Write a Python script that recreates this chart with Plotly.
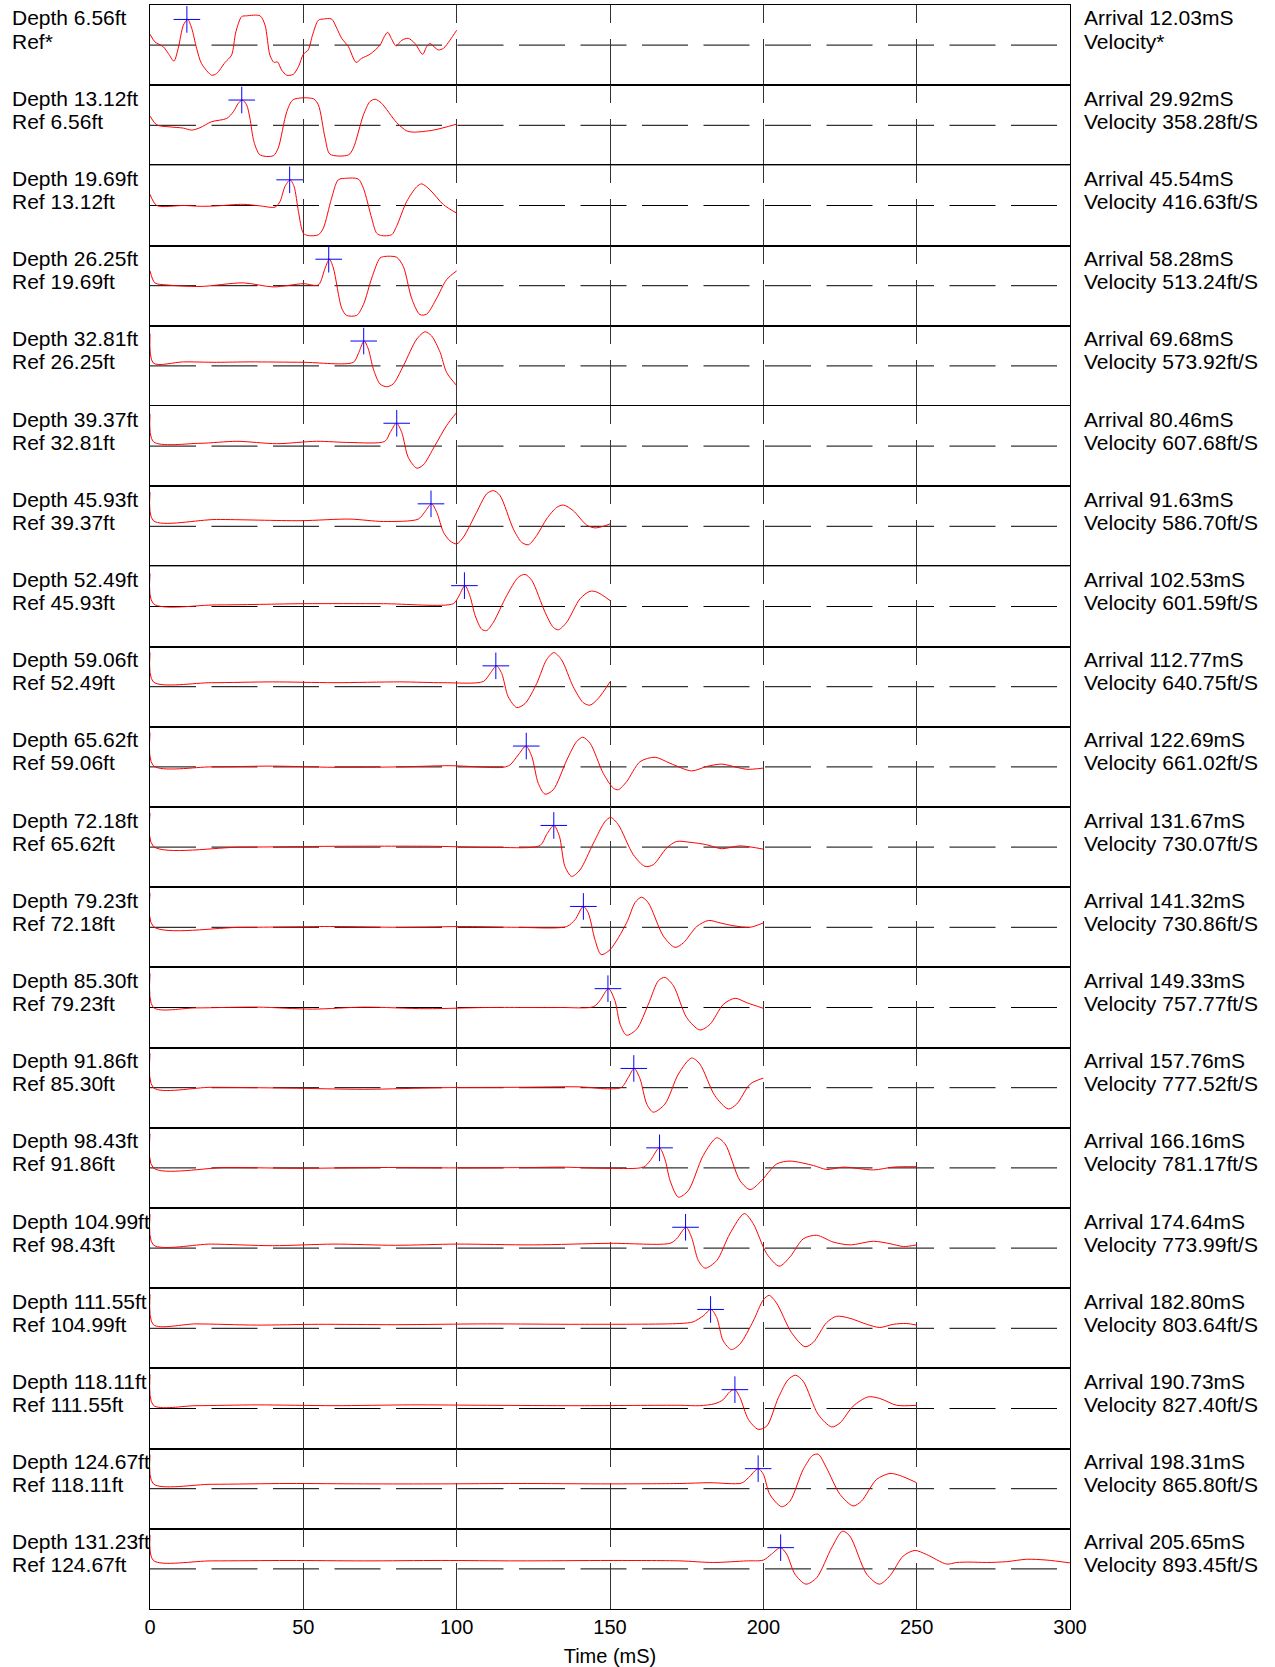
import plotly.graph_objects as go
from plotly.subplots import make_subplots

# ---------------- labels ----------------
depths = ["6.56", "13.12", "19.69", "26.25", "32.81", "39.37", "45.93", "52.49", "59.06", "65.62",
          "72.18", "79.23", "85.30", "91.86", "98.43", "104.99", "111.55", "118.11", "124.67", "131.23"]
refs = ["*", "6.56", "13.12", "19.69", "26.25", "32.81", "39.37", "45.93", "52.49", "59.06",
        "65.62", "72.18", "79.23", "85.30", "91.86", "98.43", "104.99", "111.55", "118.11", "124.67"]
arrivals = [12.03, 29.92, 45.54, 58.28, 69.68, 80.46, 91.63, 102.53, 112.77, 122.69,
            131.67, 141.32, 149.33, 157.76, 166.16, 174.64, 182.80, 190.73, 198.31, 205.65]
velocities = ["*", "358.28", "416.63", "513.24", "573.92", "607.68", "586.70", "601.59", "640.75", "661.02",
              "730.07", "730.86", "757.77", "777.52", "781.17", "773.99", "803.64", "827.40", "865.80", "893.45"]
pick_amp = [0.64, 0.63, 0.64, 0.66, 0.62, 0.57, 0.56, 0.52, 0.52, 0.52,
            0.54, 0.52, 0.47, 0.48, 0.50, 0.52, 0.47, 0.47, 0.50, 0.53]

x_ticks = [0, 50, 100, 150, 200, 250, 300]

# ---------------- waveforms (time mS, normalised amplitude) ----------------
t_01 = [0, 1.6, 4.3, 6, 7.8, 9.2, 10.9, 12.3, 13.6, 15.2, 16.8, 20.1, 21.7, 24.5, 26.6, 28, 29.9, 31.5, 35.9, 37.5,
        39.1, 40.4, 41.6, 42.9, 44.6, 46.7, 48.4, 50, 51.6, 53, 54.9, 56.5, 59.2, 60.9, 62.5, 64.7, 67.2, 69,
        71.7, 75, 76.4, 77.5, 78.8, 80.2, 82.1, 84.2, 86.4, 88.9, 90.2, 91.3, 92.6, 94, 95.7, 97.8, 100]
a_01 = [0.27, 0.08, -0.04, -0.21, -0.4, -0.08, 0.5, 0.64, 0.42, -0.08, -0.46, -0.75, -0.71, -0.43, -0.25, 0.33, 0.71, 0.73, 0.73, 0.5,
        -0.25, -0.43, -0.42, -0.62, -0.75, -0.73, -0.54, -0.23, -0.12, 0.25, 0.62, 0.65, 0.65, 0.42, 0.17, -0.04, -0.43, -0.33,
        -0.23, 0.0, 0.21, 0.32, 0.15, -0.02, 0.12, 0.17, 0.04, -0.23, -0.04, 0.04, -0.04, -0.12, -0.08, 0.12, 0.37]

t_02 = [0, 2.2, 6.5, 10.9, 13.6, 16.3, 20.1, 25, 27.2, 28.8, 30.1, 31.5, 32.6, 33.9, 35.9, 40.2, 41.8, 44.6, 46.7, 53.3,
        54.9, 57.1, 58.7, 64.7, 66.3, 69.6, 71.7, 73.4, 75.5, 80.4, 83.7, 85.9, 92.4, 100]
a_02 = [0.23, 0.01, -0.04, -0.07, -0.12, -0.06, 0.09, 0.17, 0.34, 0.55, 0.63, 0.51, 0.17, -0.41, -0.74, -0.76, -0.57, 0.34, 0.64, 0.66,
        0.51, -0.32, -0.72, -0.74, -0.57, 0.26, 0.59, 0.65, 0.55, 0.07, -0.14, -0.17, -0.12, 0.03]

t_03 = [0, 2.2, 10.9, 16.8, 21.7, 30.4, 35.9, 40.8, 42.4, 44, 45.7, 47, 48.4, 50, 51.6, 54.9, 56.5, 59.2, 61.4, 64.1,
        67.9, 69.6, 72.3, 73.9, 75.5, 78.8, 80.4, 83.7, 87, 88.6, 91.3, 95.7, 100]
a_03 = [0.28, 0.0, 0.0, -0.02, -0.01, 0.03, -0.01, -0.04, 0.1, 0.47, 0.64, 0.47, -0.15, -0.69, -0.75, -0.73, -0.57, 0.18, 0.64, 0.68,
        0.66, 0.43, -0.32, -0.69, -0.75, -0.73, -0.52, 0.1, 0.47, 0.54, 0.39, 0.02, -0.19]

t_04 = [0, 1.6, 5.4, 16.3, 30.4, 40.2, 50, 54.9, 57.1, 58.5, 59.8, 62.5, 64.1, 67.4, 69.6, 72.3, 75, 76.6, 80.4, 82.6,
        85.3, 88, 90.2, 93.5, 96.7, 100]
a_04 = [0.37, 0.07, 0.02, -0.02, 0.07, -0.03, 0.05, 0.02, 0.44, 0.66, 0.44, -0.56, -0.74, -0.74, -0.47, 0.19, 0.69, 0.73, 0.71, 0.48,
        -0.31, -0.72, -0.71, -0.31, 0.15, 0.37]

t_05 = [0, 1.1, 10.9, 21.7, 32.6, 50, 66.3, 67.9, 69.8, 71.2, 72.8, 75, 77.2, 79.3, 82.6, 87, 89.7, 91.8, 94.6, 96.7, 100]
a_05 = [0.8, 0.07, 0.1, 0.09, 0.1, 0.09, 0.09, 0.3, 0.62, 0.42, -0.07, -0.45, -0.52, -0.45, 0.0, 0.67, 0.85, 0.75, 0.34, -0.16, -0.49]

t_06 = [0, 1.1, 16.3, 28.3, 41.3, 54.3, 65.2, 76.6, 78.3, 80.4, 82.1, 84.2, 87, 89.1, 92.9, 96.7, 100]
a_06 = [0.8, 0.11, 0.07, 0.12, 0.06, 0.12, 0.09, 0.12, 0.34, 0.57, 0.34, -0.28, -0.55, -0.47, 0.01, 0.51, 0.84]

t_07 = [0, 1.1, 21.7, 48.9, 65.2, 76.1, 87.5, 89.7, 91.8, 93.5, 95.7, 97.8, 100, 102.2, 106.5, 109.8, 112, 114.1, 118.5, 121.2,
        123.4, 126.1, 129.3, 132.6, 134.8, 138, 142.4, 145.1, 147.8, 150]
a_07 = [0.85, 0.14, 0.17, 0.14, 0.18, 0.12, 0.18, 0.37, 0.56, 0.35, -0.15, -0.36, -0.44, -0.27, 0.35, 0.81, 0.89, 0.77, -0.07, -0.4,
        -0.46, -0.23, 0.18, 0.47, 0.53, 0.39, 0.03, -0.04, 0.0, 0.06]

t_08 = [0, 1.1, 21.7, 50, 76.1, 98.9, 100.5, 102.7, 104.3, 106, 108.2, 109.8, 112, 116.3, 120.1, 122.3, 124.5, 128.8, 131.5, 133.2,
        135.9, 140.2, 143.5, 145.7, 150]
a_08 = [0.82, 0.07, 0.04, 0.07, 0.07, 0.07, 0.23, 0.52, 0.27, -0.22, -0.57, -0.6, -0.39, 0.27, 0.73, 0.8, 0.65, -0.14, -0.52, -0.58,
        -0.39, 0.19, 0.38, 0.36, 0.15]

t_09 = [0, 1.1, 20, 40, 60, 81.5, 95.6, 108.7, 110.9, 113, 114.7, 116.8, 119.6, 122.3, 126.1, 129.3, 131.7, 134.2, 138, 141.3,
        143.5, 146.2, 150]
a_09 = [0.85, 0.12, 0.1, 0.12, 0.1, 0.12, 0.1, 0.13, 0.33, 0.52, 0.33, -0.25, -0.52, -0.42, 0.08, 0.67, 0.85, 0.67, 0.0, -0.4,
        -0.46, -0.29, 0.12]

t_10 = [0, 1.1, 20, 40, 60, 81.5, 97.8, 115.2, 117.4, 120.1, 122.6, 124.5, 126.6, 128.8, 131.5, 135.9, 139.1, 141.1, 143.5, 147.8,
        151.1, 152.7, 155.4, 159.8, 164.7, 169.6, 176.6, 181.5, 186.4, 191.3, 194.6, 200]
a_10 = [0.85, 0.03, 0.0, 0.02, -0.01, 0.0, 0.03, -0.01, 0.05, 0.3, 0.52, 0.26, -0.41, -0.68, -0.57, 0.17, 0.63, 0.74, 0.59, -0.16,
        -0.53, -0.57, -0.37, 0.13, 0.24, 0.09, -0.1, 0.01, 0.07, -0.01, -0.06, -0.03]

t_11 = [0, 1.1, 30, 60, 92.4, 114.1, 127.2, 129.3, 131.7, 133.5, 135.3, 137.5, 140.2, 144.6, 148.4, 150.2, 152.7, 157.6, 161.4, 164.1,
        168.5, 171.7, 176.1, 181.5, 186.4, 192.4, 200]
a_11 = [0.85, 0.02, 0.0, 0.02, 0.02, -0.01, 0.04, 0.31, 0.54, 0.27, -0.48, -0.73, -0.57, 0.1, 0.64, 0.74, 0.56, -0.19, -0.48, -0.44,
        -0.02, 0.14, 0.12, 0.06, -0.04, 0.03, -0.05]

t_12 = [0, 1.1, 30, 60, 81.5, 103.3, 119.6, 135.9, 138.6, 141.3, 142.9, 145.1, 147.1, 150, 155.4, 158.2, 160.3, 162.5, 167.4, 171.2,
        173.9, 178.3, 182.1, 185.9, 190.2, 195.6, 200]
a_12 = [0.85, 0.02, 0.0, 0.02, 0.0, 0.02, 0.0, 0.02, 0.19, 0.52, 0.36, -0.31, -0.68, -0.56, 0.11, 0.62, 0.75, 0.61, -0.22, -0.5,
        -0.39, 0.02, 0.17, 0.11, 0.04, 0.0, 0.11]

t_13 = [0, 1.1, 15, 35, 53, 70, 90, 110, 133.7, 144.6, 146.7, 149.5, 151.6, 153.3, 155.4, 158.7, 162.5, 165.8, 167.9, 170.7,
        175, 179.3, 182.6, 187, 190.8, 194.6, 200]
a_13 = [0.85, 0.0, -0.01, 0.01, -0.04, 0.01, -0.03, 0.0, 0.0, 0.02, 0.17, 0.47, 0.17, -0.42, -0.69, -0.54, 0.08, 0.67, 0.75, 0.54,
        -0.25, -0.56, -0.42, 0.08, 0.23, 0.12, -0.02]

t_14 = [0, 1.1, 20, 45, 70, 95, 120, 140.2, 150, 153.8, 156, 157.9, 159.8, 162, 164.1, 167.9, 172.3, 176.6, 179.3, 184.2,
        188.6, 191.3, 195.7, 200]
a_14 = [0.85, 0.0, 0.01, -0.01, -0.04, 0.0, 0.01, 0.02, -0.03, 0.01, 0.26, 0.48, 0.22, -0.41, -0.61, -0.41, 0.34, 0.74, 0.59, -0.2,
        -0.53, -0.41, 0.09, 0.24]

t_15 = [0, 1.1, 25, 50, 75, 100, 125, 133.7, 150, 160.9, 163.1, 166.1, 167.9, 169.6, 172.3, 175.5, 180.4, 184.8, 187.5, 192.4,
        195.7, 198.9, 204.4, 208.7, 216.3, 220.7, 226.1, 235.9, 242.4, 250]
a_15 = [0.85, 0.0, 0.01, -0.01, 0.01, 0.0, 0.01, 0.02, -0.01, 0.02, 0.18, 0.5, 0.22, -0.32, -0.73, -0.57, 0.31, 0.75, 0.6, -0.32,
        -0.54, -0.36, 0.1, 0.17, 0.06, -0.04, 0.02, -0.05, 0.02, 0.03]

t_16 = [0, 1.1, 20, 40, 60, 80, 100, 125, 150, 169.6, 171.7, 174.8, 176.6, 178.8, 181, 184.8, 189.1, 193.8, 196.7, 201.1,
        205.2, 208.7, 213, 217.4, 222.8, 228.3, 235.9, 241.3, 245.7, 250]
a_16 = [0.85, 0.08, 0.1, 0.06, 0.1, 0.07, 0.1, 0.08, 0.12, 0.12, 0.23, 0.52, 0.27, -0.31, -0.5, -0.31, 0.36, 0.86, 0.61, -0.14,
        -0.45, -0.22, 0.23, 0.32, 0.15, 0.08, 0.17, 0.11, 0.04, 0.08]

t_17 = [0, 1.1, 15, 35, 55, 80, 110, 140, 172.8, 177.1, 180.4, 182.9, 184.8, 186.9, 189.6, 192.4, 196.7, 200, 201.9, 204.3,
        209.2, 213.6, 216.3, 220.6, 223.9, 228.2, 233.7, 238, 242.4, 246.7, 250]
a_17 = [0.85, 0.09, 0.11, 0.08, 0.1, 0.09, 0.11, 0.1, 0.12, 0.16, 0.31, 0.47, 0.27, -0.31, -0.53, -0.39, 0.18, 0.71, 0.82, 0.63,
        -0.11, -0.46, -0.35, 0.14, 0.3, 0.25, 0.1, 0.02, 0.1, 0.12, 0.08]

t_18 = [0, 1.1, 15, 35, 60, 85, 110, 140, 172.8, 179.3, 184.2, 186.9, 189.1, 190.7, 192.4, 195.1, 198.3, 201.1, 204.9, 208.1,
        210.5, 213, 217.9, 222.3, 225, 229.3, 234.2, 238, 243.5, 250]
a_18 = [0.85, 0.08, 0.07, 0.09, 0.07, 0.09, 0.08, 0.07, 0.08, 0.07, 0.12, 0.22, 0.42, 0.47, 0.27, -0.27, -0.52, -0.44, 0.27, 0.72,
        0.83, 0.68, -0.15, -0.46, -0.36, 0.06, 0.29, 0.25, 0.08, 0.08]

t_19 = [0, 1.1, 20, 45, 70, 95, 120, 150, 172.8, 182.6, 192.9, 195.1, 198.3, 200, 202.1, 206, 208.7, 213, 216.1, 217.9,
        220.6, 225, 229.3, 232, 236.9, 241.3, 244.5, 250]
a_19 = [0.85, 0.12, 0.11, 0.13, 0.12, 0.12, 0.13, 0.12, 0.13, 0.15, 0.14, 0.27, 0.5, 0.36, -0.14, -0.45, -0.31, 0.48, 0.83, 0.86,
        0.52, -0.14, -0.43, -0.31, 0.23, 0.38, 0.33, 0.15]

t_20 = [0, 1.1, 20, 45, 70, 95, 120, 150, 172.8, 183.7, 194.5, 200, 202.7, 205.6, 207.6, 210.3, 213.9, 217.4, 222.3, 225.8,
        228.2, 233.7, 237.8, 241.3, 245.6, 249.4, 253.2, 259.8, 263, 267.4, 272.8, 279.3, 285.8, 292.4, 300]
a_20 = [0.85, 0.21, 0.2, 0.21, 0.2, 0.21, 0.2, 0.21, 0.2, 0.16, 0.2, 0.22, 0.37, 0.53, 0.37, -0.13, -0.38, -0.22, 0.53, 0.94,
        0.82, -0.13, -0.38, -0.17, 0.32, 0.46, 0.36, 0.12, 0.16, 0.17, 0.16, 0.18, 0.24, 0.22, 0.15]

times = [t_01, t_02, t_03, t_04, t_05, t_06, t_07, t_08, t_09, t_10,
         t_11, t_12, t_13, t_14, t_15, t_16, t_17, t_18, t_19, t_20]
amps = [a_01, a_02, a_03, a_04, a_05, a_06, a_07, a_08, a_09, a_10,
        a_11, a_12, a_13, a_14, a_15, a_16, a_17, a_18, a_19, a_20]

# ---------------- figure ----------------
N = len(depths)
W, H = 1275, 1667
ML, MR, MT, MB = 150, 205, 5, 58
PW, PH = W - ML - MR, H - MT - MB
FONT = "Liberation Sans, Arial, sans-serif"

fig = make_subplots(rows=N, cols=1, shared_xaxes=True, vertical_spacing=0)

for i in range(N):
    r = i + 1
    fig.add_trace(go.Scatter(x=times[i], y=amps[i], mode="lines",
                             line=dict(color="#ff0000", width=1, shape="spline", smoothing=0.8),
                             hoverinfo="skip", showlegend=False), row=r, col=1)
    fig.add_trace(go.Scatter(x=[arrivals[i]], y=[pick_amp[i]], mode="markers",
                             marker=dict(symbol="cross-thin", size=19, color="#0000ff",
                                         line=dict(color="#0000ff", width=1)),
                             hoverinfo="skip", showlegend=False), row=r, col=1)
    xr = "x" if r == 1 else f"x{r}"
    yr = "y" if r == 1 else f"y{r}"
    fig.add_shape(type="line", xref=xr, yref=yr, x0=0, x1=300, y0=0, y1=0,
                  line=dict(color="black", width=1, dash="46px,15.5px"), layer="below")

    top_px = MT + PH * i / N
    for k, (txt_l, txt_r) in enumerate([(f"Depth {depths[i]}ft", f"Arrival {arrivals[i]:.2f}mS"),
                                         ("Ref*" if refs[i] == "*" else f"Ref {refs[i]}ft",
                                          "Velocity*" if velocities[i] == "*" else f"Velocity {velocities[i]}ft/S")]):
        ypx = top_px + (13 if k == 0 else 36)
        yp = 1 - (ypx - MT) / PH
        fig.add_annotation(xref="paper", yref="paper", x=(10 - ML) / PW, y=yp, text=txt_l,
                           showarrow=False, xanchor="left", yanchor="middle",
                           font=dict(family=FONT, size=21, color="black"))
        fig.add_annotation(xref="paper", yref="paper", x=(1082 - ML) / PW, y=yp, text=txt_r,
                           showarrow=False, xanchor="left", yanchor="middle",
                           font=dict(family=FONT, size=21, color="black"))

fig.update_xaxes(range=[0, 300], tickvals=x_ticks, showgrid=True, gridcolor="#333333", gridwidth=1,
                 griddash="18px,16px,100px", showline=True, linecolor="black", linewidth=1, mirror=True,
                 zeroline=False, ticks="", showticklabels=False)
fig.update_xaxes(showticklabels=True, tickfont=dict(family=FONT, size=20, color="black"),
                 title=dict(text="Time (mS)", font=dict(family=FONT, size=20, color="black"), standoff=11),
                 row=N, col=1)
fig.update_yaxes(range=[-1, 1], showgrid=False, zeroline=False, showticklabels=False, ticks="",
                 showline=True, linecolor="black", linewidth=1, mirror=True)

fig.update_layout(width=W, height=H, margin=dict(l=ML, r=MR, t=MT, b=MB, autoexpand=False),
                  paper_bgcolor="white", plot_bgcolor="white", font=dict(family=FONT, color="black"))

fig.write_html("out.html", config={"displayModeBar": False},
               post_script="document.body.style.margin='0px';")
